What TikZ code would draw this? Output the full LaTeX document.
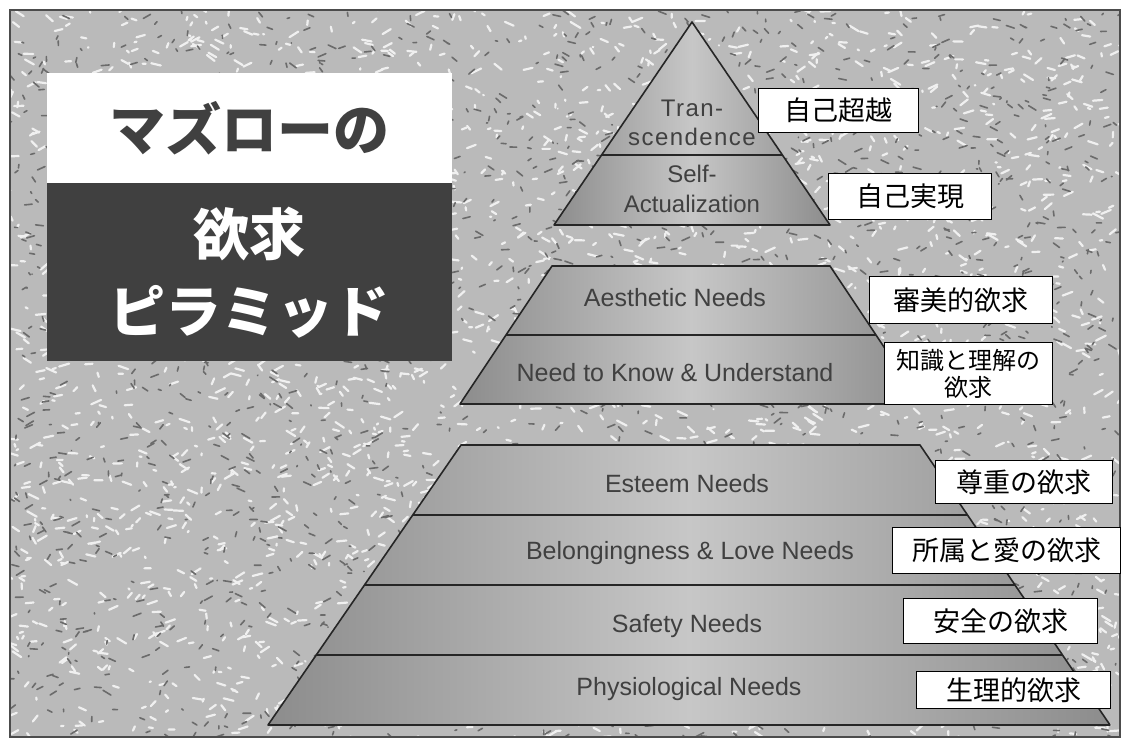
\documentclass[tikz,border=0pt]{standalone}
\usepackage{fontspec}
\setmainfont{Liberation Sans}
\newfontfamily\jpfont{Noto Sans CJK JP}
\usetikzlibrary{calc}

\begin{document}
\begin{tikzpicture}[x=1pt, y=-1pt,
  tier/.style={draw=black!85, line width=1.6pt, line join=round, left color=black!45, right color=black!45, middle color=black!22},
  tierline/.style={draw=black!85, line width=1.6pt},
  tiertext/.style={font=\fontsize{25}{29}\selectfont, text=black!75, align=center},
  tag/.style={draw=black, line width=1.2pt, fill=white, font=\jpfont\fontsize{27}{30}\selectfont, inner sep=0pt, anchor=north west, align=center},
  titlebox/.style={anchor=north west, minimum width=405, inner sep=0pt, align=center, font=\jpfont\bfseries\fontsize{56}{77}\selectfont}
]
\useasboundingbox (0,0) rectangle (1127,742);

% textured backdrop
\fill[black!27] (10,10) rectangle (1120,737);
\begin{scope}
  \clip (10,10) rectangle (1120,737);
  \pgfmathsetseed{11}
  \foreach \i in {1,...,2600} {
    \pgfmathsetmacro\px{10+1110*rnd}
    \pgfmathsetmacro\py{10+727*rnd}
    \draw[white!94!black, line width=2.2pt, line cap=round] (\px,\py) -- ++(20*rnd-10, 12*rnd-6);
  }
  \foreach \i in {1,...,2000} {
    \pgfmathsetmacro\px{10+1110*rnd}
    \pgfmathsetmacro\py{10+727*rnd}
    \draw[black!58, line width=1.6pt, line cap=round] (\px,\py) -- ++(16*rnd-8, 10*rnd-5);
  }
\end{scope}
\draw[black!70, line width=2pt] (10,10) rectangle (1120,737);

% title
\node[titlebox, fill=white, minimum height=110, text=black!75] (ttop) at (47,73) {マズローの};
\node[titlebox, fill=black!75, minimum height=178, text=white] (tbot) at (47,183) {欲求\\ピラミッド};

% top block
\coordinate (a0) at (692,22);
\coordinate (a1l) at (554,225);
\coordinate (a1r) at (830,225);
\path[tier] (a0) -- (a1r) -- (a1l) -- cycle;
\draw[tierline] ($(a0)!0.655!(a1l)$) -- ($(a0)!0.655!(a1r)$);

% middle block
\coordinate (m0l) at (552,266);
\coordinate (m0r) at (830,266);
\coordinate (m1l) at (460,404);
\coordinate (m1r) at (922,404);
\path[tier] (m0l) -- (m0r) -- (m1r) -- (m1l) -- cycle;
\draw[tierline] ($(m0l)!0.5!(m1l)$) -- ($(m0r)!0.5!(m1r)$);

% bottom block
\coordinate (b0l) at (461,445);
\coordinate (b0r) at (920,445);
\coordinate (b1l) at (268,725);
\coordinate (b1r) at (1110,725);
\path[tier] (b0l) -- (b0r) -- (b1r) -- (b1l) -- cycle;
\foreach \t in {0.25,0.5,0.75}
  \draw[tierline] ($(b0l)!\t!(b1l)$) -- ($(b0r)!\t!(b1r)$);

% tier texts
\node[tiertext, font=\addfontfeature{LetterSpace=6}\fontsize{24}{29}\selectfont] (trans) at (692,123) {Tran-\\scendence};
\node[tiertext, font=\fontsize{24}{30}\selectfont] (self) at (692,189) {Self-\\Actualization};
\node[tiertext] (aes) at (675,298) {Aesthetic Needs};
\node[tiertext] (know) at (675,373) {Need to Know \& Understand};
\node[tiertext] (est) at (687,484) {Esteem Needs};
\node[tiertext] (love) at (690,553) {Belongingness \& Love Needs};
\node[tiertext] (safe) at (687,626) {Safety Needs};
\node[tiertext] (phys) at (689,689) {Physiological Needs};

% japanese tags
\node[tag, minimum width=160, minimum height=44] (ttrans) at (758,88) {自己超越};
\node[tag, minimum width=163, minimum height=46] (tself) at (828,173) {自己実現};
\node[tag, minimum width=183, minimum height=47] (taes) at (869,276) {審美的欲求};
\node[tag, minimum width=168, minimum height=62, font=\jpfont\fontsize{24}{27}\selectfont] (tknow) at (884,342) {知識と理解の\\欲求};
\node[tag, minimum width=177, minimum height=43] (test) at (935,460) {尊重の欲求};
\node[tag, minimum width=228, minimum height=46] (tlove) at (892,527) {所属と愛の欲求};
\node[tag, minimum width=194, minimum height=45] (tsafe) at (903,598) {安全の欲求};
\node[tag, minimum width=194, minimum height=37] (tphys) at (916,671) {生理的欲求};
\end{tikzpicture}
\end{document}
